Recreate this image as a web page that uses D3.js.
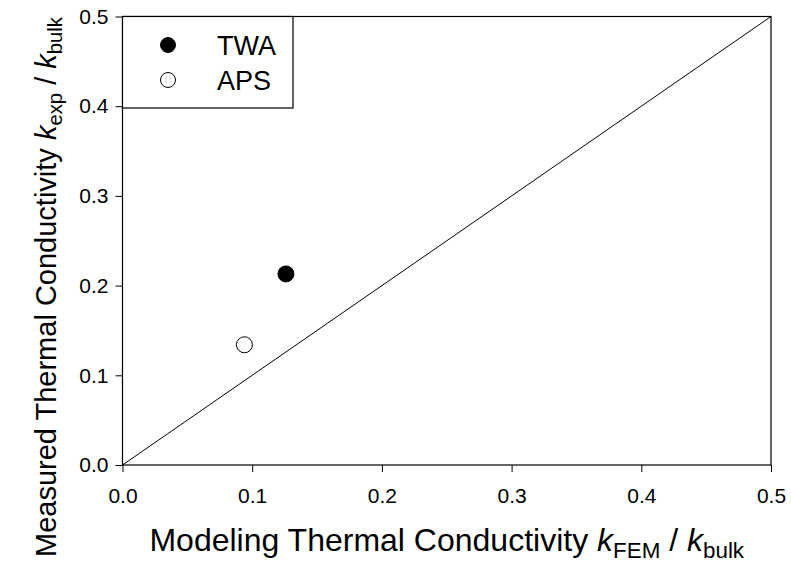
<!DOCTYPE html>
<html>
<head>
<meta charset="utf-8">
<script src="https://cdn.jsdelivr.net/npm/d3@7"></script>
<style>
  body { margin: 0; background: #fff; }
  svg text { font-family: "Liberation Sans", Arial, sans-serif; fill: #000; }
</style>
</head>
<body>
<div id="chart"></div>
<script>
// data
const seriesNames = ["TWA", "APS"];
const modeled = [0.126, 0.094];   // k_FEM / k_bulk
const measured = [0.213, 0.134];  // k_exp / k_bulk
const filled = [true, false];
const tickValues = [0.0, 0.1, 0.2, 0.3, 0.4, 0.5];

const width = 791;
const height = 569;
const margin = { top: 16.5, right: 20, bottom: 104, left: 122.5 };
const plotW = width - margin.left - margin.right;
const plotH = height - margin.top - margin.bottom;

const svg = d3
  .select("#chart")
  .append("svg")
  .attr("width", width)
  .attr("height", height);

const x = d3.scaleLinear().domain([0, 0.5]).range([margin.left, margin.left + plotW]);
const y = d3.scaleLinear().domain([0, 0.5]).range([margin.top + plotH, margin.top]);

// x axis
const xAxis = svg
  .append("g")
  .attr("transform", `translate(0, ${margin.top + plotH})`)
  .call(d3.axisBottom(x).tickValues(tickValues).tickFormat(d3.format(".1f")).tickSize(7).tickSizeOuter(0));
xAxis.select(".domain").remove();
xAxis.selectAll("line").attr("stroke", "#000");
xAxis.selectAll("text").attr("font-size", 21).attr("y", 23).attr("dy", "0.71em");

// y axis
const yAxis = svg
  .append("g")
  .attr("transform", `translate(${margin.left}, 0)`)
  .call(d3.axisLeft(y).tickValues(tickValues).tickFormat(d3.format(".1f")).tickSize(7).tickSizeOuter(0));
yAxis.select(".domain").remove();
yAxis.selectAll("line").attr("stroke", "#000");
yAxis.selectAll("text").attr("font-size", 21).attr("x", -14);

// frame
svg
  .append("rect")
  .attr("x", margin.left)
  .attr("y", margin.top)
  .attr("width", plotW)
  .attr("height", plotH)
  .attr("fill", "none")
  .attr("stroke", "#000")
  .attr("stroke-width", 1.2);

// 1:1 line
svg
  .append("line")
  .attr("x1", x(0))
  .attr("y1", y(0))
  .attr("x2", x(0.5))
  .attr("y2", y(0.5))
  .attr("stroke", "#000")
  .attr("stroke-width", 1);

// points
svg
  .selectAll(".pt")
  .data(seriesNames)
  .enter()
  .append("circle")
  .attr("class", "pt")
  .attr("cx", (d, i) => x(modeled[i]))
  .attr("cy", (d, i) => y(measured[i]))
  .attr("r", 8)
  .attr("fill", (d, i) => (filled[i] ? "#000" : "#fff"))
  .attr("stroke", "#000")
  .attr("stroke-width", 1);

// legend
const legend = svg.append("g");
legend
  .append("rect")
  .attr("x", margin.left)
  .attr("y", margin.top)
  .attr("width", 293 - margin.left)
  .attr("height", 108 - margin.top)
  .attr("fill", "#fff")
  .attr("stroke", "#000")
  .attr("stroke-width", 1.2);

const legendItems = legend
  .selectAll(".legend-item")
  .data(seriesNames)
  .enter()
  .append("g")
  .attr("transform", (d, i) => `translate(168, ${45 + i * 35})`);

legendItems
  .append("circle")
  .attr("r", 7.5)
  .attr("fill", (d, i) => (filled[i] ? "#000" : "#fff"))
  .attr("stroke", "#000")
  .attr("stroke-width", 1);

legendItems
  .append("text")
  .text((d) => d)
  .attr("x", 49)
  .attr("dy", "0.36em")
  .attr("font-size", 27);

// axis titles
function titleParts(el, sub1) {
  el.append("tspan").text("Conductivity ");
  el.append("tspan").attr("font-style", "italic").text("k");
  el.append("tspan").attr("font-size", "0.7em").attr("baseline-shift", "-30%").text(sub1);
  el.append("tspan").text(" / ");
  el.append("tspan").attr("font-style", "italic").text("k");
  el.append("tspan").attr("font-size", "0.7em").attr("baseline-shift", "-30%").text("bulk");
}

const xTitle = svg
  .append("text")
  .attr("x", margin.left + plotW / 2)
  .attr("y", 551)
  .attr("text-anchor", "middle")
  .attr("font-size", 32);
xTitle.append("tspan").text("Modeling Thermal ");
titleParts(xTitle, "FEM");

const yTitle = svg
  .append("text")
  .attr("transform", "translate(56, 17) rotate(-90)")
  .attr("text-anchor", "end")
  .attr("font-size", 29);
yTitle.append("tspan").text("Measured Thermal ");
titleParts(yTitle, "exp");
</script>
</body>
</html>
